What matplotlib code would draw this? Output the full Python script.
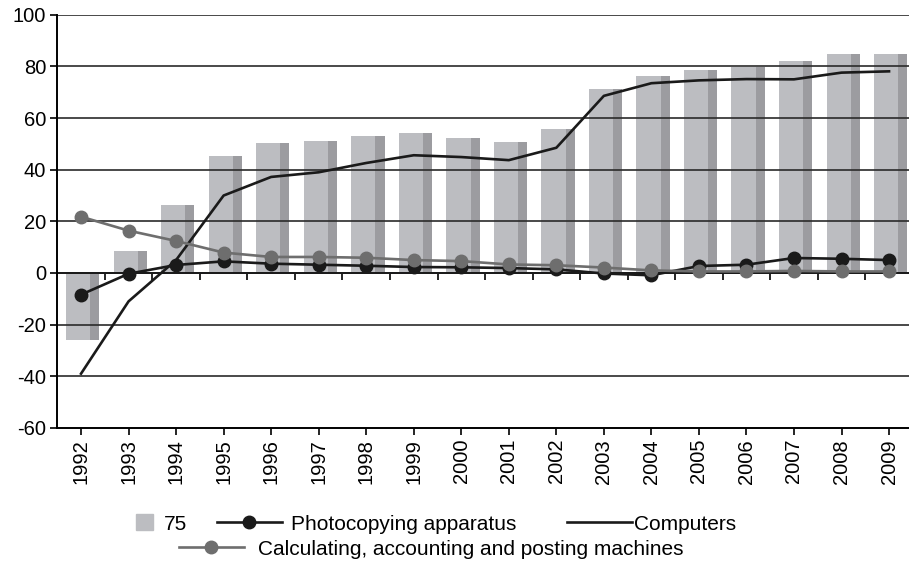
import numpy as np
import matplotlib
matplotlib.use("Agg")
import matplotlib.pyplot as plt
from matplotlib.lines import Line2D
from matplotlib.patches import Patch

plt.rcParams['font.family'] = ['Liberation Sans', 'DejaVu Sans']
plt.rcParams['axes.unicode_minus'] = False

years = [str(y) for y in range(1992, 2010)]

# bars (series labelled "75")
bar_vals = [-26, 8.5, 26.5, 45.5, 50.3, 51.3, 53.1, 54.3, 52.2, 50.9,
            55.6, 71.4, 76.4, 78.7, 79.7, 82.2, 84.9, 84.9]
computers = [-39, -11, 5, 30, 37.2, 39, 42.6, 45.6, 44.9, 43.7,
             48.5, 68.6, 73.5, 74.6, 75.1, 75.0, 77.6, 78.1]
photocopy = [-8.4, -0.3, 3.1, 4.5, 3.6, 3.2, 2.8, 2.3, 2.2, 1.9,
             1.4, -0.2, -0.9, 2.7, 3.2, 5.8, 5.5, 5.0]
calculating = [21.8, 16.4, 12.4, 7.9, 6.2, 6.2, 5.9, 5.0, 4.6, 3.3,
               3.0, 2.1, 1.0, 0.6, 0.6, 0.8, 0.6, 0.6]

light = '#bcbdc1'
dark = '#9c9ca0'
black = '#1a1a1a'
grey = '#6e6e6e'

fig = plt.figure(figsize=(9.09, 5.69), dpi=100)
ax = fig.add_axes([0.063, 0.248, 0.937, 0.726])

x = np.arange(len(years))
ax.bar(x - 0.315, bar_vals, width=0.51, align='edge', color=light, zorder=1)
ax.bar(x + 0.195, bar_vals, width=0.19, align='edge', color=dark, zorder=1)

# grid on top of the bars
for g in range(-40, 101, 20):
    ax.axhline(g, color='#2a2a2a', lw=1.2, zorder=2)
ax.axhline(0, color=black, lw=1.4, zorder=2)

ax.plot(x, computers, color=black, lw=1.9, zorder=4)
ax.plot(x, photocopy, color=black, lw=1.9, marker='o', ms=9, zorder=5)
ax.plot(x, calculating, color=grey, lw=1.9, marker='o', ms=9,
        mfc=grey, mec=grey, zorder=6)

ax.set_xlim(-0.5, 17.42)
ax.set_ylim(-60, 100)
ax.set_yticks(range(-60, 101, 20))
ax.set_xticks(x)
ax.set_xticklabels(years, rotation=90, fontsize=14.5)
ax.tick_params(axis='y', labelsize=14.5, length=5, width=1.2, direction='out', pad=3)
ax.tick_params(axis='x', length=5, width=1.2, direction='out', pad=3)

for s in ['top', 'right']:
    ax.spines[s].set_visible(False)
ax.spines['left'].set_linewidth(1.4)
ax.spines['bottom'].set_linewidth(1.4)

# boundary ticks on the zero line
sec = ax.secondary_xaxis(60 / 160)
sec.set_xticks(np.arange(0.5, 17, 1))
sec.tick_params(length=5, width=1.2, direction='out', labelbottom=False, labeltop=False)
sec.spines['bottom'].set_visible(False)
sec.spines['top'].set_visible(False)

# legend entries placed one by one
lfs = 15
common = dict(loc='center left', frameon=False, fontsize=lfs,
              borderpad=0, borderaxespad=0)
leg_a = fig.legend([Patch(color=light)], ['75'], bbox_to_anchor=(0.1496, 0.079),
                   handlelength=0.8, handleheight=0.8, handletextpad=0.55, **common)
leg_b = fig.legend([Line2D([], [], color=black, lw=1.9, marker='o', ms=9)],
                   ['Photocopying apparatus'], bbox_to_anchor=(0.2387, 0.079),
                   handlelength=3.1, handletextpad=0.45, **common)
leg_c = fig.legend([Line2D([], [], color=black, lw=1.9)], ['Computers'],
                   bbox_to_anchor=(0.6238, 0.079),
                   handlelength=3.1, handletextpad=0.1, **common)
leg_d = fig.legend([Line2D([], [], color=grey, lw=1.9, marker='o', ms=9)],
                   ['Calculating, accounting and posting machines'],
                   bbox_to_anchor=(0.1969, 0.035),
                   handlelength=3.1, handletextpad=0.7, **common)

fig.savefig('out.png', dpi=100)
